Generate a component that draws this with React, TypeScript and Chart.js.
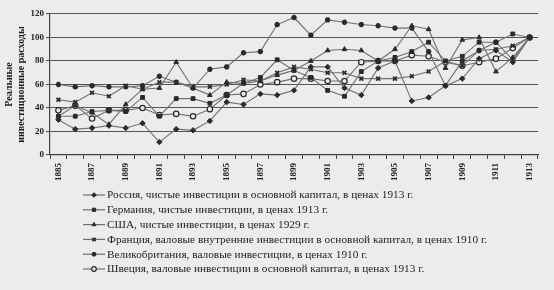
import React, { useEffect, useRef } from 'react';
import { Chart, registerables } from 'chart.js';
import { drawPoint } from 'chart.js/helpers';

Chart.register(...registerables);

const years = ['1885','1886','1887','1888','1889','1890','1891','1892','1893','1894','1895','1896','1897','1898','1899','1900','1901','1902','1903','1904','1905','1906','1907','1908','1909','1910','1911','1912','1913'];

const russia = [30, 22, 23, 25, 23, 27, 11, 22, 21, 29, 45, 43, 52, 51, 55, 75, 75, 57, 51, 74, 80, 46, 49, 59, 65, 82, 89, 79, 100];
const germany = [33, 33, 37, 38, 37, 49, 33, 48, 48, 44, 51, 61, 66, 81, 72, 66, 55, 50, 71, 80, 83, 88, 96, 80, 84, 96, 96, 103, 100];
const usa = [33, 42, 36, 26, 43, 56, 57, 79, 57, 51, 62, 61, 63, 68, 72, 80, 89, 90, 89, 80, 90, 110, 107, 74, 98, 100, 71, 83, 100];
const france = [47, 45, 53, 50, 59, 56, 62, 62, 58, 58, 60, 64, 63, 70, 75, 73, 70, 70, 65, 65, 65, 67, 71, 80, 76, 89, 90, 93, 100];
const britain = [60, 58, 59, 58, 58, 59, 67, 62, 57, 73, 75, 87, 88, 111, 117, 102, 115, 113, 111, 110, 108, 108, 88, 59, 80, 89, 96, 81, 100];
const sweden = [38, 42, 31, 38, 38, 40, 34, 35, 33, 39, 51, 52, 60, 62, 65, 65, 63, 63, 79, 80, 80, 85, 84, 79, 76, 79, 82, 91, 100];

const seriesLabels = [
  'Россия, чистые инвестиции в основной капитал, в ценах 1913 г.',
  'Германия, чистые инвестиции, в ценах 1913 г.',
  'США, чистые инвестиции, в ценах 1929 г.',
  'Франция, валовые внутренние инвестиции в основной капитал, в ценах 1910 г.',
  'Великобритания, валовые инвестиции, в ценах 1910 г.',
  'Швеция, валовые инвестиции в основной капитал, в ценах 1913 г.',
];

const yTitle = ['Реальные', 'инвестиционные расходы'];

const BG = '#edecea';
const LINE = '#707070';
const MARK = '#2a2a2a';
const SERIF = "'Liberation Serif', 'DejaVu Serif', serif";

const legendPlugin = {
  id: 'vlegend',
  afterDraw(chart: any) {
    const ctx = chart.ctx;
    ctx.save();
    chart.data.datasets.forEach((ds: any, i: number) => {
      const y = 195 + i * 14.8;
      ctx.strokeStyle = LINE;
      ctx.lineWidth = 1.2;
      ctx.beginPath();
      ctx.moveTo(83, y);
      ctx.lineTo(105, y);
      ctx.stroke();
      ctx.fillStyle = ds.pointBackgroundColor;
      ctx.strokeStyle = ds.pointBorderColor;
      ctx.lineWidth = ds.pointBorderWidth;
      drawPoint(ctx, { pointStyle: ds.pointStyle, radius: 2.3, rotation: 0, borderWidth: ds.pointBorderWidth }, 94, y);
      ctx.fillStyle = '#1e1e1e';
      ctx.font = `11.3px ${SERIF}`;
      ctx.textBaseline = 'middle';
      ctx.textAlign = 'left';
      ctx.fillText(ds.label, 107, y + 0.5);
    });
    ctx.restore();
  },
};

function mk(label: string, data: number[], style: string, hollow = false, bw = 1) {
  return {
    label,
    data,
    borderColor: LINE,
    borderWidth: 1.1,
    pointStyle: style,
    pointRadius: 2.7,
    pointBackgroundColor: hollow ? BG : MARK,
    pointBorderColor: MARK,
    pointBorderWidth: bw,
    tension: 0,
    fill: false,
  };
}

export default function App() {
  const ref = useRef<HTMLCanvasElement>(null);
  useEffect(() => {
    const canvas = ref.current;
    if (!canvas) return;
    const chart = new Chart(canvas, {
      type: 'line',
      data: {
        labels: years,
        datasets: [
          mk(seriesLabels[0], russia, 'rectRot'),
          mk(seriesLabels[1], germany, 'rect'),
          mk(seriesLabels[2], usa, 'triangle'),
          mk(seriesLabels[3], france, 'crossRot', false, 1.7),
          mk(seriesLabels[4], britain, 'star', false, 1.7),
          mk(seriesLabels[5], sweden, 'circle', true, 1.2),
        ],
      },
      options: {
        responsive: false,
        animation: false,
        devicePixelRatio: 1,
        layout: { padding: { top: 14, right: 16, bottom: 105, left: 0 } },
        plugins: { legend: { display: false }, tooltip: { enabled: false } },
        scales: {
          x: {
            type: 'category',
            offset: true,
            grid: { offset: true, drawOnChartArea: false, drawTicks: true, tickLength: 4, color: '#444' },
            border: { color: '#444', width: 1.2 },
            ticks: {
              autoSkip: false,
              maxRotation: 90,
              minRotation: 90,
              padding: 4,
              color: '#1e1e1e',
              font: { family: SERIF, size: 9, weight: 'bold' },
              callback: (_v: any, i: number) => (i % 2 === 0 ? years[i] : ''),
            },
            afterFit: (s: any) => { s.height = 30; },
          },
          y: {
            min: 0,
            max: 120,
            ticks: { stepSize: 20, padding: 2, color: '#1e1e1e', font: { family: SERIF, size: 9, weight: 'bold' } },
            grid: { color: '#555', lineWidth: 1.1, tickLength: 4 },
            border: { color: '#444', width: 1.2 },
            title: {
              display: true,
              text: yTitle,
              color: '#1e1e1e',
              font: { family: SERIF, size: 10, weight: 'bold', lineHeight: 1.2 },
              padding: { top: 3, bottom: 0 },
            },
            afterFit: (s: any) => { s.width = 50; },
          },
        },
      },
      plugins: [legendPlugin],
    } as any);
    return () => chart.destroy();
  }, []);
  return (
    <div style={{ position: 'absolute', left: 0, top: 0, width: 554, height: 290, background: BG }}>
      <canvas ref={ref} width={554} height={290} style={{ display: 'block' }} />
    </div>
  );
}
